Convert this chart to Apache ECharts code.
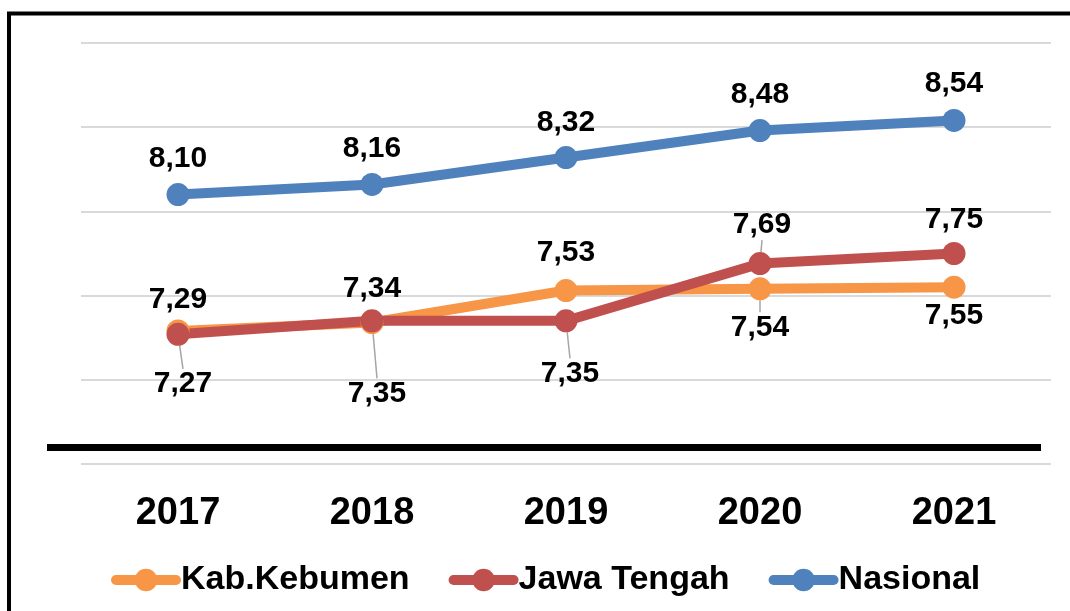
<!DOCTYPE html>
<html>
<head>
<meta charset="utf-8">
<script src="https://cdn.jsdelivr.net/npm/echarts@6/dist/echarts.min.js"></script>
<style>
  html, body { margin: 0; padding: 0; background: #fff; }
  #chart { width: 1070px; height: 611px; }
</style>
</head>
<body>
<div id="chart"></div>
<script>
  // data
  const years = ['2017', '2018', '2019', '2020', '2021'];
  const kebumen = [7.29, 7.34, 7.53, 7.54, 7.55];
  const jateng = [7.27, 7.35, 7.35, 7.69, 7.75];
  const nasional = [8.10, 8.16, 8.32, 8.48, 8.54];

  const font = '"Liberation Sans", Arial, sans-serif';

  // label shifts (pixels) so they sit where the original puts them
  const kebDy = [-5, -7, -11, 65, 55];
  const jatDy = [76, 99, 79, -12, -7];
  const jatDx = [5, 5, 4, 2, 0];
  const nasDy = [-9, -9, -8, -9, -10];

  function makeSeries(name, values, color, dy, dx, lines) {
    return {
      name: name,
      type: 'line',
      data: values.map((v, i) => ({
        value: v,
        labelLine: { show: lines[i] }
      })),
      symbol: 'circle',
      symbolSize: 23,
      lineStyle: { width: 10, color: color },
      itemStyle: { color: color },
      label: {
        show: true,
        position: 'top',
        distance: 0,
        fontSize: 30,
        fontWeight: 'bold',
        fontFamily: font,
        color: '#000',
        formatter: p => p.value.toFixed(2).replace('.', ',')
      },
      labelLine: {
        show: false,
        lineStyle: { color: '#a6a6a6', width: 1.5 }
      },
      labelLayout: p => ({ dx: dx[p.dataIndex], dy: dy[p.dataIndex] })
    };
  }

  let myChart = echarts.init(document.getElementById('chart'));
  myChart.setOption({
    animation: false,
    backgroundColor: '#fff',
    grid: { left: 81, right: 19, top: 43, bottom: 147 },
    legend: {
      bottom: 9,
      left: 106,
      itemWidth: 60,
      itemHeight: 28,
      itemGap: 39,
      lineStyle: { width: 10, cap: 'round' },
      textStyle: { fontSize: 34, fontWeight: 'bold', fontFamily: font, color: '#000' },
      data: ['Kab.Kebumen', 'Jawa Tengah', 'Nasional']
    },
    xAxis: {
      type: 'category',
      data: years,
      boundaryGap: true,
      axisLine: { show: false },
      axisTick: { show: false },
      axisLabel: { fontSize: 38, fontWeight: 'bold', fontFamily: font, color: '#000', margin: 31 }
    },
    yAxis: {
      type: 'value',
      min: 6.5,
      max: 9,
      interval: 0.5,
      axisLine: { show: false },
      axisTick: { show: false },
      axisLabel: { show: false },
      splitLine: { lineStyle: { color: '#d9d9d9', width: 2 } }
    },
    graphic: [
      {
        type: 'rect',
        shape: { x: 9, y: 13.5, width: 1200, height: 800 },
        style: { fill: null, stroke: '#000', lineWidth: 4 }
      },
      {
        type: 'line',
        shape: { x1: 47, y1: 447.5, x2: 1041, y2: 447.5 },
        style: { stroke: '#000', lineWidth: 7 }
      }
    ],
    series: [
      makeSeries('Kab.Kebumen', kebumen, '#F79646', kebDy, [0, 0, 0, 0, 0], [false, false, false, true, false]),
      makeSeries('Jawa Tengah', jateng, '#C0504D', jatDy, jatDx, [true, true, true, true, false]),
      makeSeries('Nasional', nasional, '#4F81BD', nasDy, [0, 0, 0, 0, 0], [false, false, false, false, false])
    ]
  });
</script>
</body>
</html>
